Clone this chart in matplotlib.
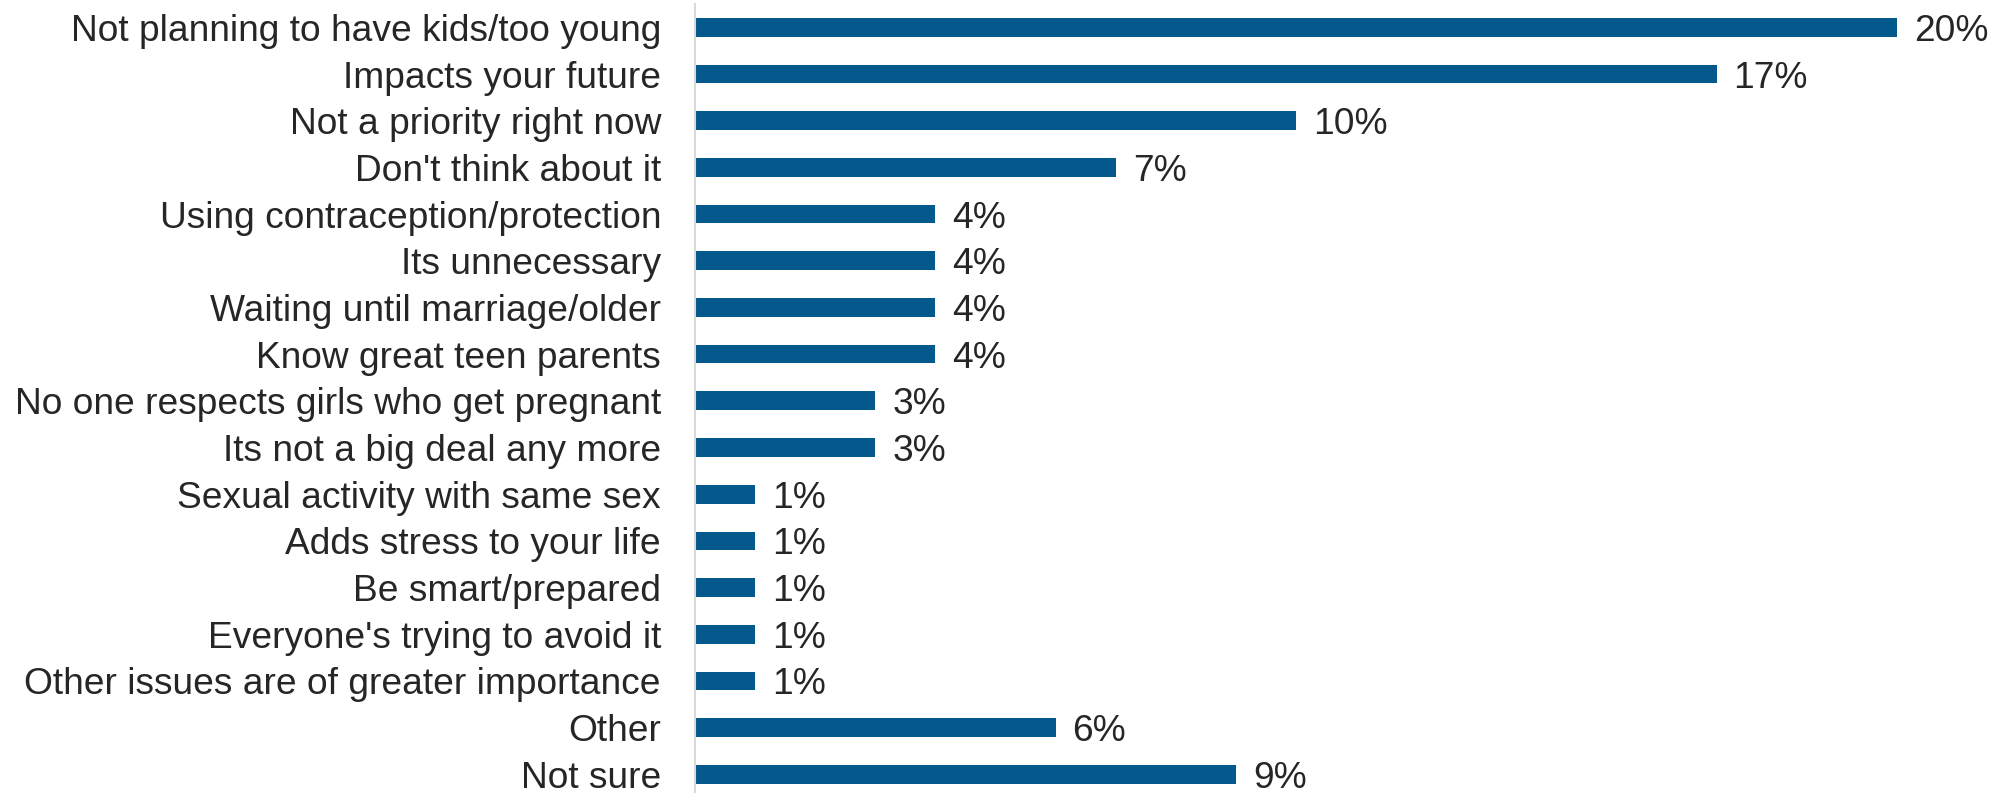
import matplotlib.pyplot as plt
import numpy as np

plt.rcParams['font.family'] = ['Liberation Sans', 'DejaVu Sans']

reasons = [
    "Not planning to have kids/too young",
    "Impacts your future",
    "Not a priority right now",
    "Don't think about it",
    "Using contraception/protection",
    "Its unnecessary",
    "Waiting until marriage/older",
    "Know great teen parents",
    "No one respects girls who get pregnant",
    "Its not a big deal any more",
    "Sexual activity with same sex",
    "Adds stress to your life",
    "Be smart/prepared",
    "Everyone's trying to avoid it",
    "Other issues are of greater importance",
    "Other",
    "Not sure",
]
pct = [20, 17, 10, 7, 4, 4, 4, 4, 3, 3, 1, 1, 1, 1, 1, 6, 9]

BAR_COLOR = '#03588C'
TEXT_COLOR = '#262626'
FS = 26.7

fig = plt.figure(figsize=(19.96, 7.93), dpi=100)
ax = fig.add_axes([695 / 1996, 0, 1 - 695 / 1996, 1 - 4 / 793])

y = np.arange(len(reasons))
ax.barh(y, pct, height=0.4, color=BAR_COLOR)

# value labels just right of each bar
for yi, v in zip(y, pct):
    ax.annotate(f"{v}%", xy=(v, yi), xytext=(17, 0), textcoords='offset pixels',
                va='center_baseline', ha='left', fontsize=FS, color=TEXT_COLOR)

ax.set_xlim(0, 21.65)
ax.set_ylim(16.4, -0.5)
ax.set_yticks(y)
ax.set_yticklabels(reasons, fontsize=FS, color=TEXT_COLOR, va='center_baseline')
ax.tick_params(axis='y', length=0, pad=34 * 72 / 100)
ax.set_xticks([])

for side in ['top', 'right', 'bottom']:
    ax.spines[side].set_visible(False)
ax.spines['left'].set_color('#d9d9d9')
ax.spines['left'].set_linewidth(1.5)

fig.savefig('out.png', dpi=100)
